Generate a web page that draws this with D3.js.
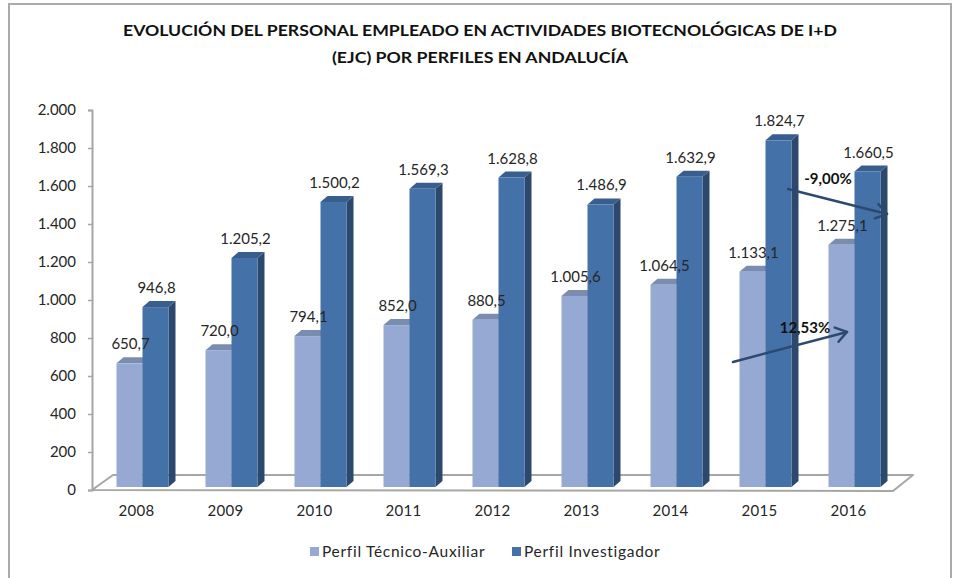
<!DOCTYPE html>
<html>
  <head>
    <meta charset="utf-8">
    <script src="https://cdn.jsdelivr.net/npm/d3@7"></script>
    <style>
      body { margin: 0; background: #fff; }
      text { font-family: Lato, "Open Sans", sans-serif; fill: #262626; }
    </style>
  </head>
  <body>
<svg id="chart" width="953" height="578"></svg>
<script>
var years = ['2008', '2009', '2010', '2011', '2012', '2013', '2014', '2015', '2016'];
var tecnico = [650.7, 720.0, 794.1, 852.0, 880.5, 1005.6, 1064.5, 1133.1, 1275.1];
var investigador = [946.8, 1205.2, 1500.2, 1569.3, 1628.8, 1486.9, 1632.9, 1824.7, 1660.5];
var yTicks = [0, 200, 400, 600, 800, 1000, 1200, 1400, 1600, 1800, 2000];
var seriesNames = ['Perfil Técnico-Auxiliar', 'Perfil Investigador'];
var titleLines = ['EVOLUCIÓN DEL PERSONAL EMPLEADO EN ACTIVIDADES BIOTECNOLÓGICAS DE I+D',
  '(EJC) POR PERFILES EN ANDALUCÍA'];
// variation 2015 -> 2016
var changeLabels = ['-9,00%', '12,53%'];

var svg = d3.select('#chart');

// spanish number format: 1.569,3
var fmt = d3.formatLocale({ decimal: ',', thousands: '.', grouping: [3], currency: ['', '€'] });
var fmtVal = fmt.format(',.1f');
var fmtTick = fmt.format(',d');

var x = d3.scaleBand().domain(years).range([92, 893]);
var y = d3.scaleLinear().domain([0, 2000]).range([490, 110]);

var depthX = 7, depthY = 6, lift = 3, barW = 26;

// frame
svg.append('rect')
  .attr('x', 9).attr('y', 4).attr('width', 942).attr('height', 600)
  .attr('fill', 'none').attr('stroke', '#ababab').attr('stroke-width', 2);

// title
svg.selectAll('.title').data(titleLines).enter()
  .append('text')
    .attr('class', 'title')
    .attr('x', 480)
    .attr('y', function (d, i) { return 36 + i * 27; })
    .attr('text-anchor', 'middle')
    .attr('textLength', function (d, i) { return i === 0 ? 714 : 296; })
    .attr('lengthAdjust', 'spacingAndGlyphs')
    .style('font-size', '15px')
    .style('font-weight', 'bold')
    .style('fill', '#111')
    .text(function (d) { return d; });

// floor
var x0 = x.range()[0], x1 = x.range()[1];
svg.append('path')
  .attr('d', 'M' + x0 + ',' + y(0) + 'L' + (x0 + 21) + ',' + (y(0) - 15) +
    'L' + (x1 + 20) + ',' + (y(0) - 15) + 'L' + x1 + ',' + (y(0) + 1) + 'Z')
  .attr('fill', '#fff').attr('stroke', '#a6a6a6').attr('stroke-width', 2)
  .attr('stroke-linejoin', 'round');

// y axis
var yAxis = d3.axisLeft(y).tickValues(yTicks).tickFormat(fmtTick).tickSize(4).tickPadding(12);
var gy = svg.append('g').attr('transform', 'translate(' + x0 + ',0)').call(yAxis);
gy.select('.domain').attr('stroke', '#a6a6a6').attr('stroke-width', 2);
gy.selectAll('.tick line').attr('stroke', '#a6a6a6').attr('stroke-width', 1.5);
gy.selectAll('.tick text').style('font-size', '15px').style('font-family', 'Lato, sans-serif').attr('fill', '#262626');

// x axis labels
svg.selectAll('.xlab').data(years).enter()
  .append('text')
    .attr('class', 'xlab')
    .attr('x', function (d) { return x(d) + x.bandwidth() / 2; })
    .attr('y', 516)
    .attr('text-anchor', 'middle')
    .style('font-size', '15px')
    .style('letter-spacing', '0.3px')
    .text(function (d) { return d; });

function barData(vals, k) {
  return years.map(function (yr, i) {
    return { year: yr, v: vals[i], x: x(yr) + 24.5 + k * barW };
  });
}

var styles = [
  { front: '#95a9d2', top: '#7a8cb0', side: '#6f80a3' },
  { front: '#4471a7', top: '#385e8e', side: '#2c486d' }
];

// draw a 3d column: side, top, front
function drawBars(data, st) {
  var g = svg.append('g');
  var bars = g.selectAll('g').data(data).enter().append('g');
  bars.append('path')
    .attr('fill', st.side)
    .attr('d', function (d) {
      var xr = d.x + barW, yt = y(d.v) - lift, yb = y(0) - lift;
      return 'M' + xr + ',' + yt + 'L' + (xr + depthX) + ',' + (yt - depthY) +
        'L' + (xr + depthX) + ',' + (yb - depthY) + 'L' + xr + ',' + yb + 'Z';
    });
  bars.append('path')
    .attr('fill', st.top)
    .attr('d', function (d) {
      var yt = y(d.v) - lift;
      return 'M' + d.x + ',' + yt + 'L' + (d.x + depthX) + ',' + (yt - depthY) +
        'L' + (d.x + barW + depthX) + ',' + (yt - depthY) + 'L' + (d.x + barW) + ',' + yt + 'Z';
    });
  bars.append('rect')
    .attr('fill', st.front)
    .attr('x', function (d) { return d.x; })
    .attr('y', function (d) { return y(d.v) - lift; })
    .attr('width', barW)
    .attr('height', function (d) { return y(0) - y(d.v); });
}

var dataT = barData(tecnico, 0);
var dataI = barData(investigador, 1);
drawBars(dataT, styles[0]);
drawBars(dataI, styles[1]);

// value labels
svg.selectAll('.val').data(dataT.concat(dataI)).enter()
  .append('text')
    .attr('class', 'val')
    .attr('x', function (d) { return d.x + barW / 2 + 1; })
    .attr('y', function (d) { return y(d.v) - lift - 14; })
    .attr('text-anchor', 'middle')
    .style('font-size', '15px')
    .text(function (d) { return fmtVal(d.v); });

// variation arrows, placed between the 2015 and 2016 groups
var arrowColor = '#2c4a70';
var arrows = [
  { p0: [x('2015') + 73, y(1584)], p1: [x('2016') + 83, y(1453)], tx: x('2015') + 113, ty: y(1610) },
  { p0: [x('2015') + 18, y(674)], p1: [x('2016') + 43, y(832)], tx: x('2015') + 90, ty: y(825) }
];
arrows.forEach(function (a, i) {
  svg.append('line')
    .attr('x1', a.p0[0]).attr('y1', a.p0[1]).attr('x2', a.p1[0]).attr('y2', a.p1[1])
    .attr('stroke', arrowColor).attr('stroke-width', 2.5).attr('stroke-linecap', 'round');
  var ang = Math.atan2(a.p1[1] - a.p0[1], a.p1[0] - a.p0[0]);
  var len = 13, spread = 0.6;
  var pts = [-spread, spread].map(function (s) {
    return [a.p1[0] - len * Math.cos(ang + s), a.p1[1] - len * Math.sin(ang + s)];
  });
  svg.append('path')
    .attr('d', 'M' + pts[0] + 'L' + a.p1 + 'L' + pts[1])
    .attr('fill', 'none').attr('stroke', arrowColor).attr('stroke-width', 2.5)
    .attr('stroke-linecap', 'round').attr('stroke-linejoin', 'round');
  svg.append('text')
    .attr('x', a.tx).attr('y', a.ty)
    .attr('text-anchor', 'middle')
    .style('font-size', '15px').style('font-weight', 'bold').style('fill', '#111')
    .text(changeLabels[i]);
});

// legend
var legend = svg.selectAll('.leg').data(seriesNames).enter()
  .append('g')
    .attr('class', 'leg')
    .attr('transform', function (d, i) { return 'translate(' + (i === 0 ? 310 : 512) + ',547)'; });
legend.append('rect')
  .attr('width', 9).attr('height', 9)
  .attr('fill', function (d, i) { return styles[i].front; });
legend.append('text')
  .attr('x', 12).attr('y', 10)
  .style('font-size', '15.5px')
  .style('letter-spacing', '0.7px')
  .text(function (d) { return d; });
</script>
</body>
</html>
